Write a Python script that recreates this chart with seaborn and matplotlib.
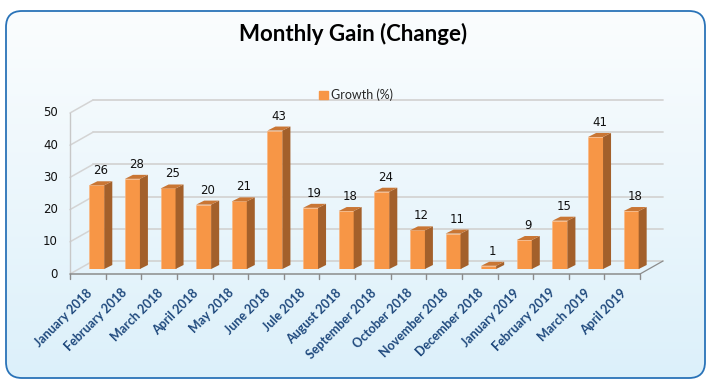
import numpy as np
import matplotlib
matplotlib.use("Agg")
import matplotlib.pyplot as plt
import seaborn as sns
from matplotlib.patches import FancyBboxPatch, Polygon, Patch
from matplotlib.colors import LinearSegmentedColormap

# Datos del grafico
meses = ["January 2018", "February 2018", "March 2018", "April 2018", "May 2018",
         "June 2018", "Jule 2018", "August 2018", "September 2018", "October 2018",
         "November 2018", "December 2018", "January 2019", "February 2019",
         "March 2019", "April 2019"]
crecimiento = [26, 28, 25, 20, 21, 43, 19, 18, 24, 12, 11, 1, 9, 15, 41, 18]
ticks_y = [0, 10, 20, 30, 40, 50]

W, H = 711, 388
NARANJA = '#f79646'
LADO = '#a3602b'
TAPA = '#c97634'
GRIS = '#d4d4d4'

sns.set_theme(style="white")
plt.rcParams['font.family'] = ['DejaVu Sans']

fig = plt.figure(figsize=(W / 100, H / 100), dpi=100)
fig.patch.set_facecolor('white')

# Fondo con degradado y borde redondeado
bg = fig.add_axes([0, 0, 1, 1], zorder=0)
bg.set_xlim(0, W)
bg.set_ylim(H, 0)
bg.axis('off')
marco = FancyBboxPatch((6, 11), 699, 367, boxstyle="round,pad=0,rounding_size=16",
                       fc='none', ec='#2a73b8', lw=1.3, zorder=2)
bg.add_patch(marco)
cmap = LinearSegmentedColormap.from_list('fondo', ['#fbfdfe', '#dcf0fa'])
grad = np.linspace(0, 1, 256).reshape(-1, 1)
im = bg.imshow(grad, extent=(6, 705, 378, 11), cmap=cmap, aspect='auto', zorder=1)
im.set_clip_path(marco)

# Eje principal (plano de las barras)
ax = fig.add_axes([79 / W, (H - 269) / H, 570 / W, 161 / H], zorder=1)
ax.patch.set_alpha(0)
sns.barplot(x=meses, y=crecimiento, ax=ax, color=NARANJA, width=0.42,
            saturation=1, zorder=3, edgecolor='#fbb57e', linewidth=0.4)
ax.set_xlim(-0.5, len(meses) - 0.5)
ax.set_ylim(0, 50)
ax.axis('off')

p0, p1 = ax.transData.transform([(0, 0), (1, 1)])
ppx, ppy = p1[0] - p0[0], p1[1] - p0[1]


def off(dx, dy):
    return dx / ppx, dy / ppy


sx, sy = off(8, 4)      # profundidad de la barra
bx, by = off(14, 8)     # pared del fondo
fx, fy = off(-9, -5)    # plano frontal
x_izq, x_der = -0.5, len(meses) - 0.5

# Pared del fondo y pared izquierda
for t in ticks_y:
    ax.plot([x_izq + bx, x_der + bx], [t + by, t + by], color=GRIS, lw=1.3,
            clip_on=False, zorder=1)
    ax.plot([x_izq + fx, x_izq + bx], [t + fy, t + by], color=GRIS, lw=1.1,
            clip_on=False, zorder=1)
    tx, _ = off(-12, 0)
    ax.text(x_izq + fx + tx, t + fy, str(t), ha='right', va='center',
            fontsize=8.5, color='#111111')

# Ejes frontales
ax.plot([x_izq + fx, x_izq + fx], [fy, 50 + fy], color='#c8c8c8', lw=1.0,
        clip_on=False, zorder=2)
ax.plot([x_izq + fx, x_der + fx], [fy, fy], color='#8c8c8c', lw=1.1,
        clip_on=False, zorder=2)
ax.plot([x_der + fx, x_der + bx], [fy, by], color='#8c8c8c', lw=0.9,
        clip_on=False, zorder=2)
_, tk = off(0, -5)
for k in range(len(meses) + 1):
    ax.plot([k - 0.5 + fx] * 2, [fy, fy + tk], color='#8c8c8c', lw=1.0,
            clip_on=False, zorder=2)

# Caras laterales, tapas y etiquetas de valor
for p, v in zip(ax.patches, crecimiento):
    x0, w, h = p.get_x(), p.get_width(), p.get_height()
    x1 = x0 + w
    ax.add_patch(Polygon([(x1, 0), (x1 + sx, sy), (x1 + sx, h + sy), (x1, h)],
                         closed=True, fc=LADO, ec='none', zorder=3, clip_on=False))
    ax.add_patch(Polygon([(x0, h), (x1, h), (x1 + sx, h + sy), (x0 + sx, h + sy)],
                         closed=True, fc=TAPA, ec='none', zorder=3, clip_on=False))
    _, ly = off(0, 4)
    ax.text(x0 + w / 2 + sx / 2, h + sy + ly, f"{v}", ha='center', va='bottom',
            fontsize=8.5, color='#111111', clip_on=False)

# Etiquetas del eje X
lx, ly2 = off(2, -17)
for i, m in enumerate(meses):
    ax.text(i + fx + lx, fy + ly2, m, rotation=45, rotation_mode='anchor',
            ha='right', va='center', fontsize=9, fontweight='bold',
            color='#1f497d', family=['Lato', 'DejaVu Sans'])

# Titulo y leyenda
fig.text(353 / W, 1 - 34 / H, 'Monthly Gain (Change)', ha='center', va='center',
         fontsize=16, fontweight='bold', color='black', family=['Lato', 'DejaVu Sans'])
fig.legend(handles=[Patch(color=NARANJA, label='Growth (%)')], loc='center',
           bbox_to_anchor=(356 / W, 1 - 95 / H), frameon=False, handlelength=0.7,
           handleheight=0.7, handletextpad=0.3,
           prop={'family': ['Lato', 'DejaVu Sans'], 'size': 9})

fig.savefig('out.png', dpi=100)
